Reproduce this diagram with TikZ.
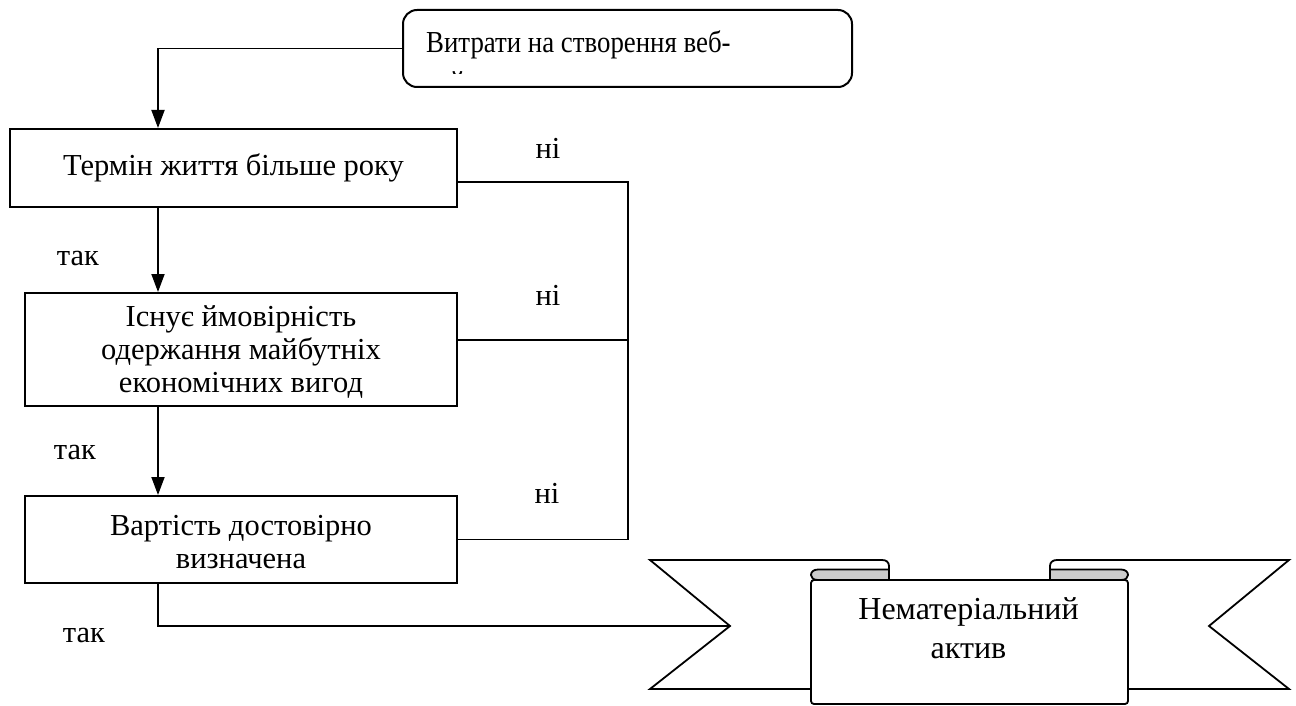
\documentclass[tikz,border=0pt]{standalone}
\usepackage{fontspec}
\setmainfont{Liberation Serif}
\newfontfamily\narrowserif{Liberation Serif}[FakeStretch=0.88]
\usetikzlibrary{arrows.meta}

\begin{document}
\begin{tikzpicture}[x=1pt, y=-1pt,
  every node/.style={font=\fontsize{30.5}{33}\selectfont},
  box/.style={draw, fill=white, inner sep=0pt, align=center, line width=2pt},
  conn/.style={line width=1.8pt},
  arr/.style={conn, -{Triangle[length=18pt, width=13pt]}},
  lbl/.style={inner sep=0pt},
  srctext/.style={anchor=base west, inner sep=0pt, font=\narrowserif\fontsize{30.5}{33}\selectfont},
  bigtext/.style={anchor=base, inner sep=0pt, font=\fontsize{32}{36}\selectfont},
  ribline/.style={line width=1.8pt, line join=miter},
  rollshade/.style={ribline, fill=black!20},
]
\useasboundingbox (0,0) rectangle (1296,706);

% start box (its second line is cut off by the box margin)
\node[box, rounded corners=14pt, minimum width=449pt, minimum height=77pt] (src) at (627.5,48.5) {};
\begin{scope}
  \clip (405,12) rectangle (850,73.5);
  \node[srctext] (srcA) at (426,53) {Витрати на створення веб-};
  \node[srctext] (srcB) at (426,92.5) {сайту};
\end{scope}

% decision boxes
\node[box, minimum width=447pt, minimum height=78pt] (b1) at (233.5,168) {Термін життя більше року};
\node[box, minimum width=432pt, minimum height=113pt,
  label={[align=center, inner sep=0pt, yshift=-3pt]center:Існує ймовірність\\одержання майбутніх\\економічних вигод}] (b2) at (241,349.5) {};
\node[box, minimum width=432pt, minimum height=87pt,
  label={[align=center, inner sep=0pt, yshift=-3pt]center:Вартість достовірно\\визначена}] (b3) at (241,539.5) {};

% guide coordinates for the vertical runs
\coordinate (spine) at (158,0);
\coordinate (rail) at (628,0);
\coordinate (n1) at ([yshift=-14pt]b1.east);
\coordinate (n2) at ([yshift=9.5pt]b2.east);
\coordinate (ribtip) at (730,626);

% "yes" path
\draw[arr] (src.west) -| (b1.north -| spine);
\draw[arr] (b1.south -| spine) -- (b2.north -| spine);
\draw[arr] (b2.south -| spine) -- (b3.north -| spine);
\draw[conn] (b3.south -| spine) |- (ribtip);

% "no" path
\draw[conn] (n1) -| (rail |- b3.east);
\draw[conn] (n2) -- (n2 -| rail);
\draw[conn] (b3.east) -- (b3.east -| rail);

% labels
\node[lbl] (no1) at (548,148) {ні};
\node[lbl] (no2) at (548,295) {ні};
\node[lbl] (no3) at (547,493) {ні};
\node[lbl] (yes1) at (78,258) {так};
\node[lbl] (yes2) at (75,452) {так};
\node[lbl] (yes3) at (84,635) {так};

% ribbon: back flaps
\draw[ribline, fill=white] (811,689) -- (650,689) -- (ribtip) -- (650,560) -- (882,560)
  .. controls (886,560) and (889,562) .. (889,566) -- (889,580);
\draw[ribline, fill=white] (1128,689) -- (1289,689) -- (1209,626) -- (1289,560) -- (1057,560)
  .. controls (1053,560) and (1050,562) .. (1050,566) -- (1050,580);
% ribbon: front panel
\draw[ribline, fill=white, rounded corners=3pt] (811,580) -- (811,704) -- (1128,704) -- (1128,580) -- cycle;
% ribbon: rolled edges
\draw[rollshade] (889,580) -- (818,580) .. controls (813,580) and (811,577.5) .. (811,575)
  .. controls (811,572.5) and (813,569.5) .. (818,569.5) -- (889,569.5) -- cycle;
\draw[rollshade] (1050,580) -- (1121,580) .. controls (1126,580) and (1128,577.5) .. (1128,575)
  .. controls (1128,572.5) and (1126,569.5) .. (1121,569.5) -- (1050,569.5) -- cycle;
\node[bigtext] (assetA) at (968.5,619) {Нематеріальний};
\node[bigtext] (assetB) at (968.5,658) {актив};
\end{tikzpicture}
\end{document}
